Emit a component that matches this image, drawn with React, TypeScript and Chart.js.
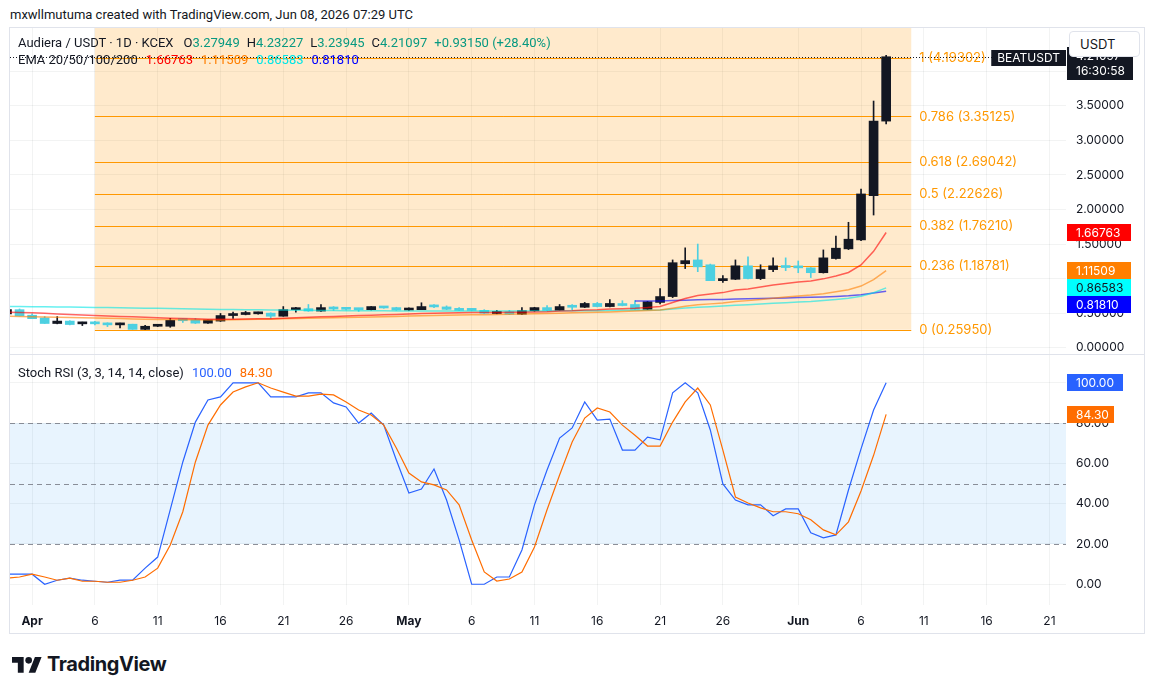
import React, { useEffect, useRef } from 'react';
import { Chart, registerables } from 'chart.js';

Chart.register(...registerables);

const FONT = 'Inter, "Noto Sans", Roboto, "DejaVu Sans", sans-serif';
const HFONT = 'Roboto, "Noto Sans", Inter, sans-serif';
const TEXT = '#131722';
const GRID = 'rgba(42, 46, 57, 0.06)';
const UP = '#131722';
const DOWN = '#4dd0e1';
const GREEN = '#089981';

// ---------- data (x unit: days since 1 Apr 2026) ----------
const firstCandleDay = -2; // 30 Mar 2026

const opens = [0.49, 0.55, 0.47, 0.43, 0.35, 0.385, 0.345, 0.35, 0.335, 0.33, 0.34, 0.265, 0.31, 0.31, 0.395, 0.40, 0.355, 0.385, 0.465, 0.48, 0.49, 0.50, 0.455, 0.55, 0.565, 0.53, 0.58, 0.56, 0.555, 0.55, 0.595, 0.58, 0.545, 0.55, 0.595, 0.59, 0.565, 0.55, 0.54, 0.495, 0.52, 0.485, 0.535, 0.58, 0.54, 0.595, 0.585, 0.64, 0.595, 0.62, 0.625, 0.555, 0.655, 0.74, 1.215, 1.27, 1.20, 0.97, 0.99, 1.185, 1.0, 1.13, 1.175, 1.165, 1.155, 1.085, 1.29, 1.43, 1.56, 2.20, 3.27949];
const highs = [0.56, 0.56, 0.49, 0.45, 0.45, 0.39, 0.37, 0.38, 0.36, 0.355, 0.34, 0.325, 0.325, 0.425, 0.415, 0.42, 0.40, 0.495, 0.515, 0.525, 0.515, 0.505, 0.595, 0.585, 0.625, 0.625, 0.595, 0.57, 0.57, 0.595, 0.595, 0.585, 0.575, 0.65, 0.625, 0.605, 0.58, 0.565, 0.55, 0.54, 0.54, 0.58, 0.585, 0.61, 0.625, 0.625, 0.655, 0.655, 0.695, 0.68, 0.68, 0.67, 0.855, 1.27, 1.445, 1.50, 1.21, 1.045, 1.27, 1.315, 1.20, 1.30, 1.30, 1.255, 1.16, 1.415, 1.615, 1.815, 2.295, 3.57, 4.23227];
const lows = [0.48, 0.46, 0.42, 0.35, 0.345, 0.33, 0.32, 0.33, 0.305, 0.285, 0.265, 0.26, 0.305, 0.295, 0.365, 0.35, 0.35, 0.38, 0.425, 0.475, 0.485, 0.425, 0.455, 0.515, 0.525, 0.525, 0.54, 0.545, 0.525, 0.545, 0.57, 0.54, 0.54, 0.55, 0.58, 0.55, 0.535, 0.535, 0.495, 0.49, 0.48, 0.48, 0.525, 0.535, 0.535, 0.55, 0.58, 0.59, 0.59, 0.605, 0.55, 0.55, 0.635, 0.725, 1.145, 1.10, 0.97, 0.945, 0.985, 0.995, 0.985, 1.10, 1.115, 1.085, 1.015, 1.08, 1.28, 1.42, 1.55, 1.92, 3.23945];
const closes = [0.55, 0.46, 0.42, 0.35, 0.385, 0.335, 0.35, 0.345, 0.33, 0.34, 0.265, 0.31, 0.318, 0.395, 0.39, 0.355, 0.40, 0.465, 0.48, 0.49, 0.495, 0.455, 0.55, 0.555, 0.53, 0.58, 0.56, 0.555, 0.55, 0.595, 0.575, 0.545, 0.565, 0.595, 0.59, 0.555, 0.54, 0.54, 0.50, 0.505, 0.485, 0.535, 0.58, 0.54, 0.595, 0.585, 0.64, 0.595, 0.64, 0.61, 0.555, 0.665, 0.74, 1.23, 1.26, 1.17, 0.97, 1.0, 1.185, 1.0, 1.13, 1.185, 1.16, 1.155, 1.085, 1.30, 1.44, 1.57, 2.225, 3.27949, 4.21097];

const ema20 = [0.515, 0.51, 0.505, 0.497, 0.489, 0.481, 0.474, 0.467, 0.46, 0.453, 0.446, 0.439, 0.432, 0.427, 0.422, 0.417, 0.413, 0.41, 0.411, 0.414, 0.417, 0.42, 0.427, 0.434, 0.44, 0.447, 0.453, 0.459, 0.465, 0.471, 0.477, 0.482, 0.488, 0.494, 0.499, 0.503, 0.506, 0.508, 0.509, 0.51, 0.511, 0.513, 0.516, 0.52, 0.53, 0.535, 0.545, 0.55, 0.56, 0.565, 0.57, 0.58, 0.595, 0.655, 0.712, 0.756, 0.776, 0.797, 0.834, 0.85, 0.877, 0.906, 0.93, 0.951, 0.964, 0.996, 1.038, 1.089, 1.197, 1.395, 1.66763];
const ema50 = [0.455, 0.452, 0.449, 0.445, 0.441, 0.437, 0.433, 0.429, 0.425, 0.421, 0.416, 0.412, 0.409, 0.407, 0.405, 0.403, 0.402, 0.402, 0.404, 0.407, 0.41, 0.413, 0.417, 0.421, 0.425, 0.429, 0.433, 0.437, 0.441, 0.445, 0.449, 0.453, 0.457, 0.461, 0.465, 0.469, 0.472, 0.475, 0.478, 0.481, 0.484, 0.488, 0.492, 0.496, 0.5, 0.504, 0.509, 0.513, 0.518, 0.523, 0.53, 0.537, 0.545, 0.572, 0.598, 0.62, 0.634, 0.648, 0.668, 0.681, 0.698, 0.716, 0.733, 0.749, 0.762, 0.782, 0.808, 0.838, 0.892, 0.986, 1.11509];
const ema100 = [0.597, 0.596, 0.594, 0.592, 0.59, 0.588, 0.586, 0.583, 0.58, 0.578, 0.575, 0.572, 0.569, 0.566, 0.563, 0.56, 0.557, 0.554, 0.552, 0.55, 0.548, 0.546, 0.544, 0.542, 0.54, 0.538, 0.537, 0.536, 0.535, 0.534, 0.533, 0.532, 0.532, 0.532, 0.532, 0.532, 0.532, 0.532, 0.531, 0.531, 0.531, 0.531, 0.532, 0.532, 0.533, 0.534, 0.535, 0.536, 0.538, 0.54, 0.541, 0.543, 0.547, 0.56, 0.574, 0.586, 0.594, 0.602, 0.613, 0.621, 0.631, 0.642, 0.652, 0.662, 0.67, 0.683, 0.698, 0.715, 0.745, 0.795, 0.86583];
const ema200: (number | null)[] = [null, null, null, null, null, null, null, null, null, null, null, null, null, null, null, null, null, null, null, null, null, null, null, null, null, null, null, null, null, null, null, null, null, null, null, null, null, null, null, null, null, null, null, null, null, null, null, null, null, null, 0.676, 0.676, 0.677, 0.682, 0.688, 0.693, 0.696, 0.699, 0.704, 0.707, 0.711, 0.716, 0.72, 0.725, 0.729, 0.735, 0.742, 0.751, 0.766, 0.791, 0.8181];

const stochK = [5, 5, 5, 0, 2, 3, 2, 1.5, 1, 2, 2, 8, 13.5, 37, 60.7, 80.5, 91.5, 93, 100, 100, 100, 93, 93, 93, 95, 95, 90, 88, 80, 85, 79, 61.7, 45.3, 47.3, 57.2, 41.8, 22, 0, 0, 3.6, 3.6, 17, 39.4, 56.7, 72.6, 77.6, 90.5, 81.5, 82, 66.6, 66.6, 73, 71.7, 95, 100, 95, 76.6, 49.8, 41.8, 39.4, 39.4, 34, 37.4, 37.4, 25.5, 23, 24.5, 46.8, 67.2, 86.5, 100];
const stochD = [3, 3.6, 5, 3.6, 2, 3, 1.5, 1.5, 1, 1, 2, 3.6, 8, 19.5, 36, 60.7, 79, 89, 95.4, 98, 100, 97.4, 95.4, 93.4, 93.4, 94.4, 94, 90.5, 86.5, 84, 79, 67.6, 55.2, 50.8, 49.3, 46.8, 39.4, 22, 6.1, 1.6, 2.6, 6.1, 18.5, 37, 54.2, 70.6, 82.5, 87.5, 85.5, 79, 74, 68.6, 68.6, 80.5, 90.5, 97.4, 89, 66.6, 43.3, 40.3, 37.9, 36, 36, 35, 32, 27, 24.5, 31, 46.3, 64, 84.3];

const tickDays = [0, 5, 10, 15, 20, 25, 30, 35, 40, 45, 50, 55, 61, 66, 71, 76, 81];
const tickLabels = ['Apr', '6', '11', '16', '21', '26', 'May', '6', '11', '16', '21', '26', 'Jun', '6', '11', '16', '21'];
const monthTickDays = [0, 30, 61];

const priceTicks = [0, 0.5, 1, 1.5, 2, 2.5, 3, 3.5, 4];
const stochTicks = [0, 20, 40, 60, 80, 100];

const fibRatios = ['0', '0.236', '0.382', '0.5', '0.618', '0.786', '1'];
const fibPrices = [0.2595, 1.18781, 1.7621, 2.22626, 2.69042, 3.35125, 4.19302];
const fibStartDay = 5;
const fibEndDay = 70;

const lastPrice = 4.21097;
const countdown = '16:30:58';
const emaTagValues = [1.66763, 1.11509, 0.86583, 0.8181];
const emaTagBg = ['#ff0000', '#ff7f00', '#00ffff', '#0000ff'];
const emaTagFg = ['#ffffff', '#ffffff', '#131722', '#ffffff'];
const emaLineColors = ['rgba(255,0,0,0.6)', 'rgba(255,127,0,0.6)', 'rgba(0,230,230,0.6)', 'rgba(0,0,255,0.6)'];
const stochLast = [100.0, 84.3];

// ---------- layout constants ----------
const X_MIN = -1.76;
const X_MAX = 82.32;
const PRICE_MIN = -0.106;
const PRICE_MAX = 4.627;
const STOCH_MIN = -10.3;
const STOCH_MAX = 113.8;
const CANVAS_W = 1134;
const AXIS_W = 78;

function xAxis(showLabels: boolean) {
  return {
    type: 'linear',
    min: X_MIN,
    max: X_MAX,
    offset: false,
    grid: { color: GRID, drawTicks: false, offset: false },
    border: { display: false },
    afterBuildTicks: (s: any) => {
      s.ticks = tickDays.map((v) => ({ value: v }));
    },
    afterFit: (s: any) => {
      s.height = showLabels ? 28 : 0;
      s.paddingLeft = 0;
      s.paddingRight = 0;
    },
    ticks: {
      display: showLabels,
      autoSkip: false,
      maxRotation: 0,
      minRotation: 0,
      padding: 9,
      color: TEXT,
      font: (ctx: any) => ({
        family: FONT,
        size: 12,
        weight: ctx.tick && monthTickDays.includes(ctx.tick.value) ? 'bold' : 'normal',
      }),
      callback: (v: any) => {
        const i = tickDays.indexOf(Number(v));
        return i >= 0 ? tickLabels[i] : '';
      },
    },
  };
}

function yAxis(min: number, max: number, ticks: number[], decimals: number) {
  return {
    position: 'right',
    min,
    max,
    grid: { color: GRID, drawTicks: false },
    border: { display: false },
    afterBuildTicks: (s: any) => {
      s.ticks = ticks.map((v) => ({ value: v }));
    },
    afterFit: (s: any) => {
      s.width = AXIS_W;
      s.paddingTop = 0;
      s.paddingBottom = 0;
    },
    ticks: {
      padding: 10,
      color: TEXT,
      font: { family: FONT, size: 12 },
      callback: (v: any) => Number(v).toFixed(decimals),
    },
  };
}

function drawTag(ctx: CanvasRenderingContext2D, x: number, yc: number, w: number, h: number, bg: string, fg: string, text: string, tx: number) {
  ctx.fillStyle = bg;
  ctx.fillRect(x, Math.round(yc - h / 2), w, h);
  ctx.fillStyle = fg;
  ctx.textAlign = 'left';
  ctx.textBaseline = 'middle';
  ctx.fillText(text, tx, yc + 0.5);
}

const priceOverlay = {
  id: 'priceOverlay',
  beforeDatasetsDraw(chart: any) {
    const { ctx, chartArea: a, scales } = chart;
    const x = scales.x;
    const y = scales.y;
    const xs = x.getPixelForValue(fibStartDay);
    const xe = x.getPixelForValue(fibEndDay);
    const yb = y.getPixelForValue(fibPrices[0]);
    ctx.save();
    ctx.fillStyle = 'rgba(255,152,0,0.2)';
    ctx.fillRect(xs, a.top, xe - xs, yb - a.top);
    ctx.strokeStyle = '#ff9800';
    ctx.lineWidth = 1;
    fibPrices.forEach((p) => {
      const yy = Math.round(y.getPixelForValue(p)) + 0.5;
      ctx.beginPath();
      ctx.moveTo(xs, yy);
      ctx.lineTo(xe, yy);
      ctx.stroke();
    });
    ctx.restore();
  },
  afterDatasetsDraw(chart: any) {
    const { ctx, chartArea: a, scales } = chart;
    const x = scales.x;
    const y = scales.y;
    const xe = x.getPixelForValue(fibEndDay);
    ctx.save();
    ctx.font = `13px ${FONT}`;
    ctx.fillStyle = '#ff9800';
    ctx.textAlign = 'left';
    ctx.textBaseline = 'middle';
    fibPrices.forEach((p, i) => {
      ctx.fillText(`${fibRatios[i]} (${p.toFixed(5)})`, xe + 8, y.getPixelForValue(p) + 0.5);
    });
    const yl = Math.round(y.getPixelForValue(lastPrice)) + 0.5;
    ctx.strokeStyle = TEXT;
    ctx.lineWidth = 1;
    ctx.setLineDash([1, 2]);
    ctx.beginPath();
    ctx.moveTo(a.left, yl);
    ctx.lineTo(a.right, yl);
    ctx.stroke();
    ctx.setLineDash([]);
    ctx.font = `12px ${FONT}`;
    const label = 'BEATUSDT';
    const w = ctx.measureText(label).width + 12;
    ctx.fillStyle = '#131722';
    ctx.fillRect(a.right - w, Math.round(yl - 8), w, 16);
    ctx.fillStyle = '#ffffff';
    ctx.textAlign = 'center';
    ctx.fillText(label, a.right - w / 2, yl + 0.5);
    ctx.restore();
  },
  afterDraw(chart: any) {
    const { ctx, chartArea: a, scales } = chart;
    const y = scales.y;
    ctx.save();
    ctx.font = `12px ${FONT}`;
    const yl = y.getPixelForValue(lastPrice);
    ctx.fillStyle = '#131722';
    ctx.fillRect(a.right + 1, Math.round(yl - 10), 66, 33);
    ctx.fillStyle = '#ffffff';
    ctx.textAlign = 'left';
    ctx.textBaseline = 'middle';
    ctx.fillText(lastPrice.toFixed(5), a.right + 10, yl);
    ctx.fillText(countdown, a.right + 10, yl + 15);
    let prev = -1000;
    emaTagValues.forEach((v, i) => {
      let yc = y.getPixelForValue(v);
      if (yc < prev + 17) yc = prev + 17;
      prev = yc;
      drawTag(ctx, a.right + 1, yc, 64, 17, emaTagBg[i], emaTagFg[i], v.toFixed(5), a.right + 10);
    });
    ctx.restore();
  },
};

const stochOverlay = {
  id: 'stochOverlay',
  beforeDatasetsDraw(chart: any) {
    const { ctx, chartArea: a, scales } = chart;
    const y = scales.y;
    const y80 = y.getPixelForValue(80);
    const y20 = y.getPixelForValue(20);
    ctx.save();
    ctx.fillStyle = 'rgba(33,150,243,0.1)';
    ctx.fillRect(a.left, y80, a.right - a.left, y20 - y80);
    ctx.strokeStyle = 'rgba(120,123,134,0.85)';
    ctx.lineWidth = 1;
    ctx.setLineDash([5, 4]);
    [80, 50, 20].forEach((v) => {
      const yy = Math.round(y.getPixelForValue(v)) + 0.5;
      ctx.beginPath();
      ctx.moveTo(a.left, yy);
      ctx.lineTo(a.right, yy);
      ctx.stroke();
    });
    ctx.restore();
  },
  afterDraw(chart: any) {
    const { ctx, chartArea: a, scales } = chart;
    const y = scales.y;
    ctx.save();
    ctx.font = `12px ${FONT}`;
    drawTag(ctx, a.right + 1, y.getPixelForValue(stochLast[0]), 56, 17, '#2962ff', '#ffffff', stochLast[0].toFixed(2), a.right + 10);
    drawTag(ctx, a.right + 1, y.getPixelForValue(stochLast[1]), 47, 17, '#ff6d00', '#ffffff', stochLast[1].toFixed(2), a.right + 10);
    ctx.restore();
  },
};

function buildPriceConfig(): any {
  const days = opens.map((_, i) => firstCandleDay + i);
  const colors = opens.map((o, i) => (closes[i] >= o ? UP : DOWN));
  const emaSeries = [ema20, ema50, ema100, ema200];
  const lines = emaSeries.map((vals, k) => ({
    type: 'line',
    data: vals.map((v, i) => ({ x: days[i], y: v })),
    borderColor: emaLineColors[k],
    borderWidth: 1.5,
    pointRadius: 0,
    tension: 0,
    spanGaps: false,
    order: 0,
  }));
  return {
    type: 'bar',
    data: {
      datasets: [
        ...lines,
        {
          type: 'bar',
          data: days.map((d, i) => ({ x: d, y: [opens[i], closes[i]] })),
          backgroundColor: colors,
          barThickness: 9,
          minBarLength: 2,
          grouped: false,
          order: 1,
        },
        {
          type: 'bar',
          data: days.map((d, i) => ({ x: d, y: [lows[i], highs[i]] })),
          backgroundColor: colors,
          barThickness: 1,
          grouped: false,
          order: 2,
        },
      ],
    },
    options: {
      animation: false,
      responsive: false,
      devicePixelRatio: 1,
      events: [],
      layout: { padding: 0 },
      plugins: { legend: { display: false }, tooltip: { enabled: false } },
      scales: {
        x: xAxis(false),
        y: yAxis(PRICE_MIN, PRICE_MAX, priceTicks, 5),
      },
    },
    plugins: [priceOverlay],
  };
}

function buildStochConfig(): any {
  const days = stochK.map((_, i) => firstCandleDay + i);
  return {
    type: 'line',
    data: {
      datasets: [
        {
          data: stochD.map((v, i) => ({ x: days[i], y: v })),
          borderColor: '#ff6d00',
          borderWidth: 1.2,
          pointRadius: 0,
          tension: 0,
        },
        {
          data: stochK.map((v, i) => ({ x: days[i], y: v })),
          borderColor: '#2962ff',
          borderWidth: 1.2,
          pointRadius: 0,
          tension: 0,
        },
      ],
    },
    options: {
      animation: false,
      responsive: false,
      devicePixelRatio: 1,
      events: [],
      layout: { padding: 0 },
      plugins: { legend: { display: false }, tooltip: { enabled: false } },
      scales: {
        x: xAxis(true),
        y: yAxis(STOCH_MIN, STOCH_MAX, stochTicks, 2),
      },
    },
    plugins: [stochOverlay],
  };
}

function CanvasChart({ make, left, top, width, height }: { make: () => any; left: number; top: number; width: number; height: number }) {
  const ref = useRef<HTMLCanvasElement>(null);
  useEffect(() => {
    const chart = new Chart(ref.current as HTMLCanvasElement, make());
    return () => chart.destroy();
  }, []);
  return (
    <canvas
      ref={ref}
      width={width}
      height={height}
      style={{ position: 'absolute', left, top, width, height, display: 'block' }}
    />
  );
}

export default function App() {
  const val = (c: string) => ({ color: c });
  const row = { position: 'absolute' as const, fontSize: 13, lineHeight: '18px', whiteSpace: 'nowrap' as const, fontFamily: HFONT };
  return (
    <div
      style={{
        position: 'absolute',
        left: 0,
        top: 0,
        width: 1154,
        height: 694,
        background: '#ffffff',
        fontFamily: FONT,
        color: TEXT,
        overflow: 'hidden',
      }}
    >
      <div style={{ ...row, left: 10, top: 6 }}>
        mxwllmutuma created with TradingView.com, Jun 08, 2026 07:29 UTC
      </div>

      <div
        style={{
          position: 'absolute',
          left: 9,
          top: 27,
          width: 1136,
          height: 607,
          border: '1px solid #e0e3eb',
          boxSizing: 'border-box',
        }}
      />

      <CanvasChart make={buildPriceConfig} left={10} top={28} width={CANVAS_W} height={327} />
      <div style={{ position: 'absolute', left: 10, top: 354, width: CANVAS_W, height: 1, background: '#e0e3eb' }} />
      <CanvasChart make={buildStochConfig} left={10} top={355} width={CANVAS_W} height={278} />

      <div style={{ ...row, left: 18, top: 34 }}>
        <span>Audiera / USDT · 1D · KCEX</span>
        <span style={{ marginLeft: 10 }}>O</span>
        <span style={val(GREEN)}>3.27949</span>
        <span style={{ marginLeft: 7 }}>H</span>
        <span style={val(GREEN)}>4.23227</span>
        <span style={{ marginLeft: 7 }}>L</span>
        <span style={val(GREEN)}>3.23945</span>
        <span style={{ marginLeft: 7 }}>C</span>
        <span style={val(GREEN)}>4.21097</span>
        <span style={{ marginLeft: 7, color: GREEN }}>+0.93150 (+28.40%)</span>
      </div>
      <div style={{ ...row, left: 18, top: 51 }}>
        <span>EMA 20/50/100/200</span>
        <span style={{ marginLeft: 8, color: '#ff0000' }}>1.66763</span>
        <span style={{ marginLeft: 8, color: '#ff7f00' }}>1.11509</span>
        <span style={{ marginLeft: 8, color: '#00e5e5' }}>0.86583</span>
        <span style={{ marginLeft: 8, color: '#0000ff' }}>0.81810</span>
      </div>

      <div style={{ ...row, left: 18, top: 364 }}>
        <span>Stoch RSI (3, 3, 14, 14, close)</span>
        <span style={{ marginLeft: 8, color: '#2962ff' }}>100.00</span>
        <span style={{ marginLeft: 8, color: '#ff6d00' }}>84.30</span>
      </div>

      <div
        style={{
          position: 'absolute',
          left: 1069,
          top: 31,
          width: 71,
          height: 26,
          background: '#ffffff',
          border: '1px solid #e0e3eb',
          borderRadius: 4,
          boxSizing: 'border-box',
          fontSize: 13,
          lineHeight: '24px',
          paddingLeft: 10,
        }}
      >
        USDT
      </div>

      <svg style={{ position: 'absolute', left: 12, top: 656 }} width="30" height="17" viewBox="0 0 36 20">
        <path d="M14 20H7V8H0V1h14v19z" fill="#131722" />
        <circle cx="20" cy="5" r="4" fill="#131722" />
        <path d="M28 20h-8l7.5-19h8L28 20z" fill="#131722" />
      </svg>
      <div
        style={{
          position: 'absolute',
          left: 47,
          top: 651,
          fontSize: 20,
          fontWeight: 700,
          letterSpacing: -0.4,
          lineHeight: '26px',
        }}
      >
        TradingView
      </div>
    </div>
  );
}
